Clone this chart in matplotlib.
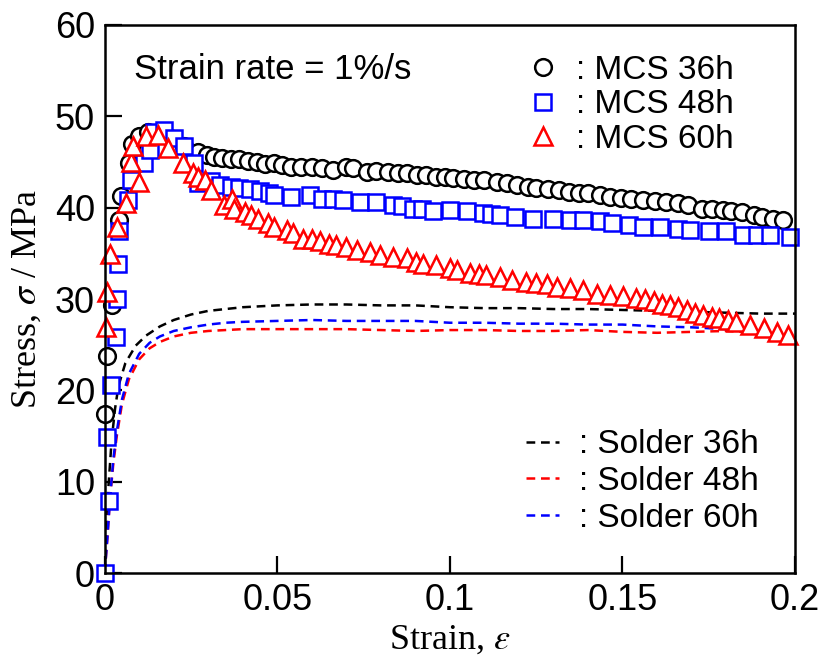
import matplotlib
matplotlib.use('Agg')
import matplotlib.pyplot as plt
from matplotlib.lines import Line2D

plt.rcParams['font.family'] = ['Liberation Sans', 'DejaVu Sans']
plt.rcParams['mathtext.fontset'] = 'stix'

# MCS 36h (circles)
mcs36_x = [0.0, 0.0007, 0.0022, 0.0040, 0.0048, 0.0070, 0.0078, 0.0098, 0.0125, 0.0155, 0.0190, 0.0230, 0.0270,
           0.0295, 0.0318, 0.0340, 0.0365, 0.0390, 0.0415, 0.0440, 0.0465, 0.0490, 0.0515,
           0.0540, 0.0570, 0.0600, 0.0630, 0.0660, 0.0700, 0.0720, 0.0760, 0.0785, 0.0820,
           0.0850, 0.0875, 0.0905, 0.0930, 0.0960, 0.0985, 0.1010, 0.1040, 0.1070, 0.1100,
           0.1135, 0.1165, 0.1195, 0.1225, 0.1250, 0.1285, 0.1315, 0.1345, 0.1375, 0.1400,
           0.1435, 0.1465, 0.1495, 0.1525, 0.1560, 0.1595, 0.1625, 0.1660, 0.1690, 0.1730,
           0.1760, 0.1790, 0.1815, 0.1845, 0.1880, 0.1905, 0.1935, 0.1965]
mcs36_y = [17.4, 23.8, 29.3, 38.6, 41.3, 44.9, 47.0, 47.8, 48.3, 48.2, 47.6, 46.8, 46.1,
           45.8, 45.5, 45.4, 45.3, 45.3, 45.1, 45.0, 44.8, 44.9, 44.7,
           44.5, 44.5, 44.4, 44.3, 44.1, 44.5, 44.3, 43.9, 44.0, 43.9,
           43.8, 43.8, 43.6, 43.6, 43.4, 43.4, 43.2, 43.1, 43.0, 43.0,
           42.8, 42.7, 42.5, 42.3, 42.2, 42.0, 41.9, 41.75, 41.6, 41.6,
           41.4, 41.2, 41.1, 41.0, 40.8, 40.7, 40.65, 40.5, 40.3, 39.8,
           39.8, 39.7, 39.6, 39.5, 39.2, 39.0, 38.8, 38.7]

# MCS 48h (squares)
mcs48_x = [0.0, 0.0012, 0.0006, 0.0017, 0.0032, 0.0036, 0.0038, 0.0040, 0.0067, 0.0076, 0.0115, 0.0130,
           0.0144, 0.0173, 0.0202, 0.0230, 0.0260, 0.0270, 0.0307, 0.0335, 0.0365, 0.0390, 0.0420,
           0.0450, 0.0475, 0.0490, 0.0540, 0.0594, 0.0630, 0.0660, 0.0690, 0.0740, 0.0787, 0.0835,
           0.0860, 0.0893, 0.0920, 0.0950, 0.1000, 0.1050, 0.1096, 0.1120, 0.1145, 0.1190, 0.1240,
           0.1300, 0.1348, 0.1386, 0.1435, 0.1470, 0.1520, 0.1560, 0.1610, 0.1660, 0.1696, 0.1750,
           0.1800, 0.1850, 0.1890, 0.1927, 0.1986]
mcs48_y = [0.0, 7.9, 14.9, 20.6, 25.8, 30.0, 33.8, 37.4, 40.8, 43.0, 44.9, 46.3,
           48.3, 48.5, 47.6, 46.7, 44.9, 42.7, 42.9, 42.5, 42.3, 42.2, 42.0,
           41.8, 41.6, 41.4, 41.2, 41.4, 41.0, 41.0, 40.8, 40.65, 40.65, 40.3,
           40.2, 39.9, 39.8, 39.6, 39.75, 39.6, 39.4, 39.3, 39.2, 39.0, 38.8,
           38.8, 38.65, 38.65, 38.5, 38.3, 38.1, 37.9, 37.9, 37.7, 37.55, 37.4,
           37.4, 37.0, 37.0, 37.0, 36.8]

# MCS 60h (triangles)
mcs60_x = [0.0005, 0.0008, 0.0015, 0.0035, 0.0062, 0.0100, 0.0076, 0.0081, 0.0120, 0.0154, 0.0183,
           0.0226, 0.0255, 0.0270, 0.0290, 0.0308, 0.0347, 0.0370, 0.0376, 0.0405, 0.0424, 0.0443,
           0.0472, 0.0490, 0.0527, 0.0545, 0.0575, 0.0600, 0.0623, 0.0650, 0.0670, 0.0700, 0.0730,
           0.0768, 0.0797, 0.0836, 0.0875, 0.0903, 0.0923, 0.0960, 0.1000, 0.1020, 0.1058, 0.1085,
           0.1106, 0.1145, 0.1180, 0.1220, 0.1250, 0.1280, 0.1310, 0.1348, 0.1386, 0.1425, 0.1464,
           0.1502, 0.1540, 0.1565, 0.1590, 0.1615, 0.1638, 0.1662, 0.1686, 0.1710, 0.1734, 0.1758,
           0.1780, 0.1805, 0.1830, 0.1870, 0.1910, 0.1947, 0.1980]
mcs60_y = [26.9, 30.8, 34.9, 37.9, 40.5, 42.8, 45.0, 46.7, 47.8, 48.0, 46.5,
           44.9, 43.8, 43.4, 43.0, 41.9, 40.3, 41.0, 39.9, 39.5, 39.2, 38.8,
           38.3, 37.9, 37.6, 37.2, 36.6, 36.6, 36.4, 36.0, 35.9, 35.7, 35.4,
           35.2, 34.8, 34.6, 34.5, 34.1, 33.8, 33.7, 33.4, 33.2, 32.8, 32.7,
           32.6, 32.4, 32.1, 31.9, 31.7, 31.6, 31.3, 31.2, 31.0, 30.6, 30.4,
           30.3, 30.1, 30.0, 29.8, 29.5, 29.3, 29.1, 28.8, 28.5, 28.2, 28.0,
           27.9, 27.7, 27.5, 27.2, 26.8, 26.4, 26.1]

# Solder curves (dashed)
sol36_x = [0.0, 0.0005, 0.001, 0.002, 0.003, 0.004, 0.006, 0.009, 0.012, 0.016, 0.02, 0.025, 0.03, 0.04,
           0.05, 0.06, 0.07, 0.08, 0.09, 0.1, 0.11, 0.12, 0.13, 0.14, 0.15, 0.16, 0.17, 0.18, 0.19, 0.2]
sol36_y = [0.0, 5.0, 9.0, 14.5, 18.0, 20.5, 23.0, 24.9, 26.0, 27.0, 27.7, 28.3, 28.7, 29.1,
           29.3, 29.4, 29.4, 29.3, 29.3, 29.1, 29.0, 29.0, 28.9, 28.9, 28.8, 28.7, 28.6, 28.5, 28.4, 28.4]
sol48_x = [0.0, 0.0008, 0.0015, 0.0025, 0.0035, 0.005, 0.007, 0.01, 0.013, 0.016, 0.02, 0.025, 0.03, 0.035,
           0.04, 0.05, 0.06, 0.07, 0.08, 0.09, 0.1, 0.11, 0.12, 0.13, 0.14, 0.15, 0.16, 0.17, 0.18, 0.185]
sol48_y = [0.0, 4.0, 8.0, 12.0, 15.0, 18.5, 21.2, 23.4, 24.6, 25.3, 25.9, 26.3, 26.5, 26.6,
           26.7, 26.7, 26.7, 26.7, 26.6, 26.5, 26.6, 26.6, 26.5, 26.5, 26.6, 26.4, 26.3, 26.4, 26.5, 26.4]
sol60_x = [0.0, 0.0008, 0.0015, 0.0025, 0.0035, 0.005, 0.007, 0.01, 0.013, 0.016, 0.02, 0.025, 0.03, 0.035,
           0.04, 0.05, 0.06, 0.07, 0.08, 0.09, 0.1, 0.11, 0.12, 0.13, 0.14, 0.15, 0.16, 0.17, 0.18, 0.19]
sol60_y = [0.0, 4.0, 8.0, 12.5, 15.5, 19.0, 21.8, 24.0, 25.2, 25.9, 26.5, 26.9, 27.2, 27.4,
           27.5, 27.6, 27.7, 27.6, 27.6, 27.6, 27.4, 27.4, 27.3, 27.3, 27.2, 27.2, 27.0, 26.9, 26.7, 26.4]

xticks = [0, 0.05, 0.1, 0.15, 0.2]
xtick_labels = ['0', '0.05', '0.1', '0.15', '0.2']
yticks = [0, 10, 20, 30, 40, 50, 60]

fig = plt.figure(figsize=(8.18, 6.66), dpi=100)
ax = fig.add_axes([0.128, 0.1396, 0.844, 0.8229])

dash = (0, (3.5, 2.3))
lw_d = 1.8
ax.plot(sol36_x, sol36_y, color='black', lw=lw_d, linestyle=dash)
ax.plot(sol48_x, sol48_y, color='red', lw=lw_d, linestyle=dash)
ax.plot(sol60_x, sol60_y, color='blue', lw=lw_d, linestyle=dash)

mk = dict(ls='none', mfc='white', mew=1.8, clip_on=False)
ax.plot(mcs36_x, mcs36_y, marker='o', ms=12, mec='black', **mk)
ax.plot(mcs48_x, mcs48_y, marker='s', ms=11.5, mec='blue', **mk)
ax.plot(mcs60_x, mcs60_y, marker='^', ms=13, mec='red', **mk)

ax.set_xlim(0, 0.2)
ax.set_ylim(0, 60)
ax.set_xticks(xticks)
ax.set_xticklabels(xtick_labels)
ax.set_yticks(yticks)
ax.tick_params(direction='in', length=12, width=1.6, labelsize=26, pad=7)
for sp in ax.spines.values():
    sp.set_linewidth(1.8)

ax.set_xlabel(r'Strain, $\varepsilon$', family='Liberation Serif', fontsize=26, labelpad=4)
ax.set_ylabel(r'Stress, $\sigma$ / MPa', family='Liberation Serif', fontsize=26, labelpad=8)

ax.text(0.042, 0.918, 'Strain rate = 1%/s', transform=ax.transAxes, fontsize=25, va='center')

h1 = [Line2D([], [], marker='o', ms=12, mec='black', **mk),
      Line2D([], [], marker='s', ms=11.5, mec='blue', **mk),
      Line2D([], [], marker='^', ms=13, mec='red', **mk)]
leg1 = ax.legend(h1, [': MCS 36h', ': MCS 48h', ': MCS 60h'], loc='upper left',
                 bbox_to_anchor=(0.61, 0.945), frameon=False, fontsize=24, handlelength=1.0,
                 handletextpad=0.5, labelspacing=0.1, borderpad=0, borderaxespad=0)
ax.add_artist(leg1)

h2 = [Line2D([], [], color='black', lw=lw_d, ls=dash),
      Line2D([], [], color='red', lw=lw_d, ls=dash),
      Line2D([], [], color='blue', lw=lw_d, ls=dash)]
ax.legend(h2, [': Solder 36h', ': Solder 48h', ': Solder 60h'], loc='upper left',
          bbox_to_anchor=(0.61, 0.262), frameon=False, fontsize=24, handlelength=1.0,
          handletextpad=0.6, labelspacing=0.17, borderpad=0, borderaxespad=0)

fig.savefig('out.png', dpi=100)
